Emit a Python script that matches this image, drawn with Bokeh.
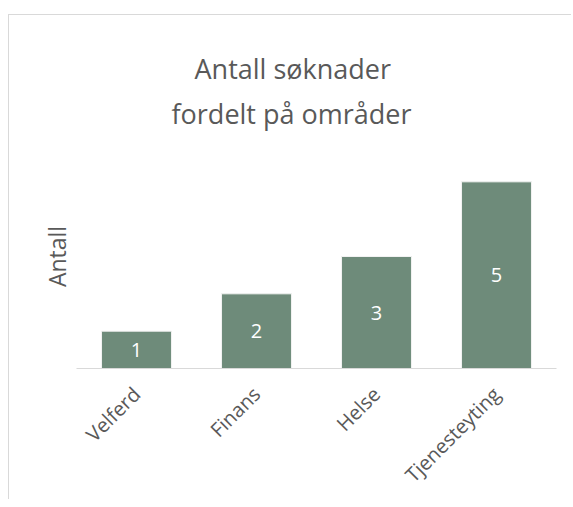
import math
from bokeh.plotting import figure
from bokeh.models import Title, FactorRange, Range1d, ColumnDataSource
from bokeh.core.properties import value
from bokeh.embed import file_html
from bokeh.resources import INLINE

categories = ["Velferd", "Finans", "Helse", "Tjenesteyting"]
counts = [1, 2, 3, 5]
title_lines = ["Antall søknader", "fordelt på områder"]
y_label = "Antall"

FONT = "Open Sans"
TXT = "#595959"

src = ColumnDataSource(dict(
    cat=categories,
    val=counts,
    mid=[v / 2 for v in counts],
    lbl=[str(v) for v in counts],
))

p = figure(
    width=563, height=485,
    x_range=FactorRange(factors=categories, range_padding=0, factor_padding=0),
    y_range=Range1d(0, 6),
    output_backend="svg", toolbar_location=None, title=None,
    min_border_left=67, min_border_right=16, min_border_top=129, min_border_bottom=132,
)
p.styles = {"border-left": "1px solid #d9d9d9", "border-top": "1px solid #d9d9d9",
            "margin-left": "8px", "margin-top": "14px"}

p.vbar(x="cat", top="val", bottom=0, width=0.583, source=src,
       fill_color="#6E8B7A", line_color="#f2f2f2", line_width=1)
p.text(x="cat", y="mid", text="lbl", source=src, text_align="center",
       text_baseline="middle", text_color="white", text_font_size="20px",
       text_font=value(FONT))

p.xgrid.visible = False
p.ygrid.visible = False
p.outline_line_color = None
p.yaxis.visible = False

xa = p.xaxis[0]
xa.axis_line_color = "#d9d9d9"
xa.axis_line_width = 1
xa.major_tick_line_color = None
xa.minor_tick_line_color = None
xa.major_tick_out = 0
xa.major_tick_in = 0
xa.major_label_orientation = math.pi / 4
xa.major_label_standoff = 22
xa.major_label_text_font = FONT
xa.major_label_text_font_size = "20px"
xa.major_label_text_color = TXT

t2 = Title(text=title_lines[1], align="left", offset=95, standoff=26,
           text_font=FONT, text_font_size="27px", text_font_style="normal", text_color=TXT)
t1 = Title(text=title_lines[0], align="left", offset=118, standoff=-14,
           text_font=FONT, text_font_size="27px", text_font_style="normal", text_color=TXT)
p.add_layout(t2, "above")
p.add_layout(t1, "above")

yl = Title(text=y_label, align="center", standoff=8,
           text_font=FONT, text_font_size="23px", text_font_style="normal", text_color=TXT)
p.add_layout(yl, "left")

open("out.html", "w").write(file_html(p, INLINE))
